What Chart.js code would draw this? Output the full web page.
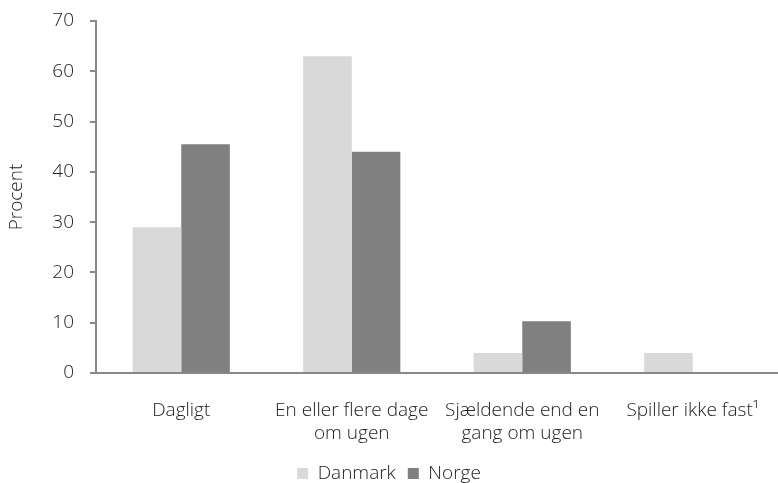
<!DOCTYPE html>
<html>
<head>
<meta charset="utf-8">
<script src="https://cdn.jsdelivr.net/npm/chart.js@4"></script>
<style>
  html, body { margin: 0; padding: 0; background: #fff; }
  #wrap { width: 778px; height: 483px; }
</style>
</head>
<body>
<div id="wrap"><canvas id="chart"></canvas></div>
<script>
// Data
const categories = [
    'Dagligt',
    ['En eller flere dage', 'om ugen'],
    ['Sjældende end en', 'gang om ugen'],
    'Spiller ikke fast¹'
];
const danmark = [29, 63, 4, 4];
const norge = [45.5, 44, 10.3, 0];
const yTicks = [0, 10, 20, 30, 40, 50, 60, 70];

const axisColor = '#888888';
const textColor = '#222222';
const font = { family: 'Open Sans', size: 19, weight: '300', lineHeight: 1.2 };

const ctx = document.getElementById('chart').getContext('2d');
new Chart(ctx, {
    type: 'bar',
    data: {
        labels: categories,
        datasets: [
            { label: 'Danmark', data: danmark, backgroundColor: '#d9d9d9' },
            { label: 'Norge', data: norge, backgroundColor: '#808080' }
        ]
    },
    options: {
        responsive: true,
        maintainAspectRatio: false,
        animation: false,
        layout: { padding: { top: 21, right: 0, bottom: -10, left: 0 } },
        datasets: { bar: { barPercentage: 1, categoryPercentage: 0.57 } },
        plugins: {
            legend: {
                position: 'bottom',
                labels: {
                    color: textColor, font: font,
                    boxWidth: 11, boxHeight: 11, padding: 12
                }
            },
            tooltip: { enabled: false }
        },
        scales: {
            x: {
                grid: { display: false, drawTicks: false },
                border: { display: true, color: axisColor, width: 2 },
                ticks: { color: textColor, font: font, maxRotation: 0, padding: 26 },
                afterFit: s => { s.height = 79; s.paddingLeft = 0; s.paddingRight = 0; }
            },
            y: {
                min: 0, max: 70,
                afterBuildTicks: s => { s.ticks = yTicks.map(v => ({ value: v })); },
                afterFit: s => { s.width = 96; s.paddingTop = 0; s.paddingBottom = 0; },
                grid: { drawOnChartArea: false, drawTicks: true, tickLength: 6, color: axisColor, lineWidth: 2 },
                border: { display: true, color: axisColor, width: 2 },
                ticks: { color: textColor, font: font, padding: 16 },
                title: { display: true, text: 'Procent', color: textColor, font: font, padding: { top: 5, bottom: 10 } }
            }
        }
    }
});
</script>
</body>
</html>
